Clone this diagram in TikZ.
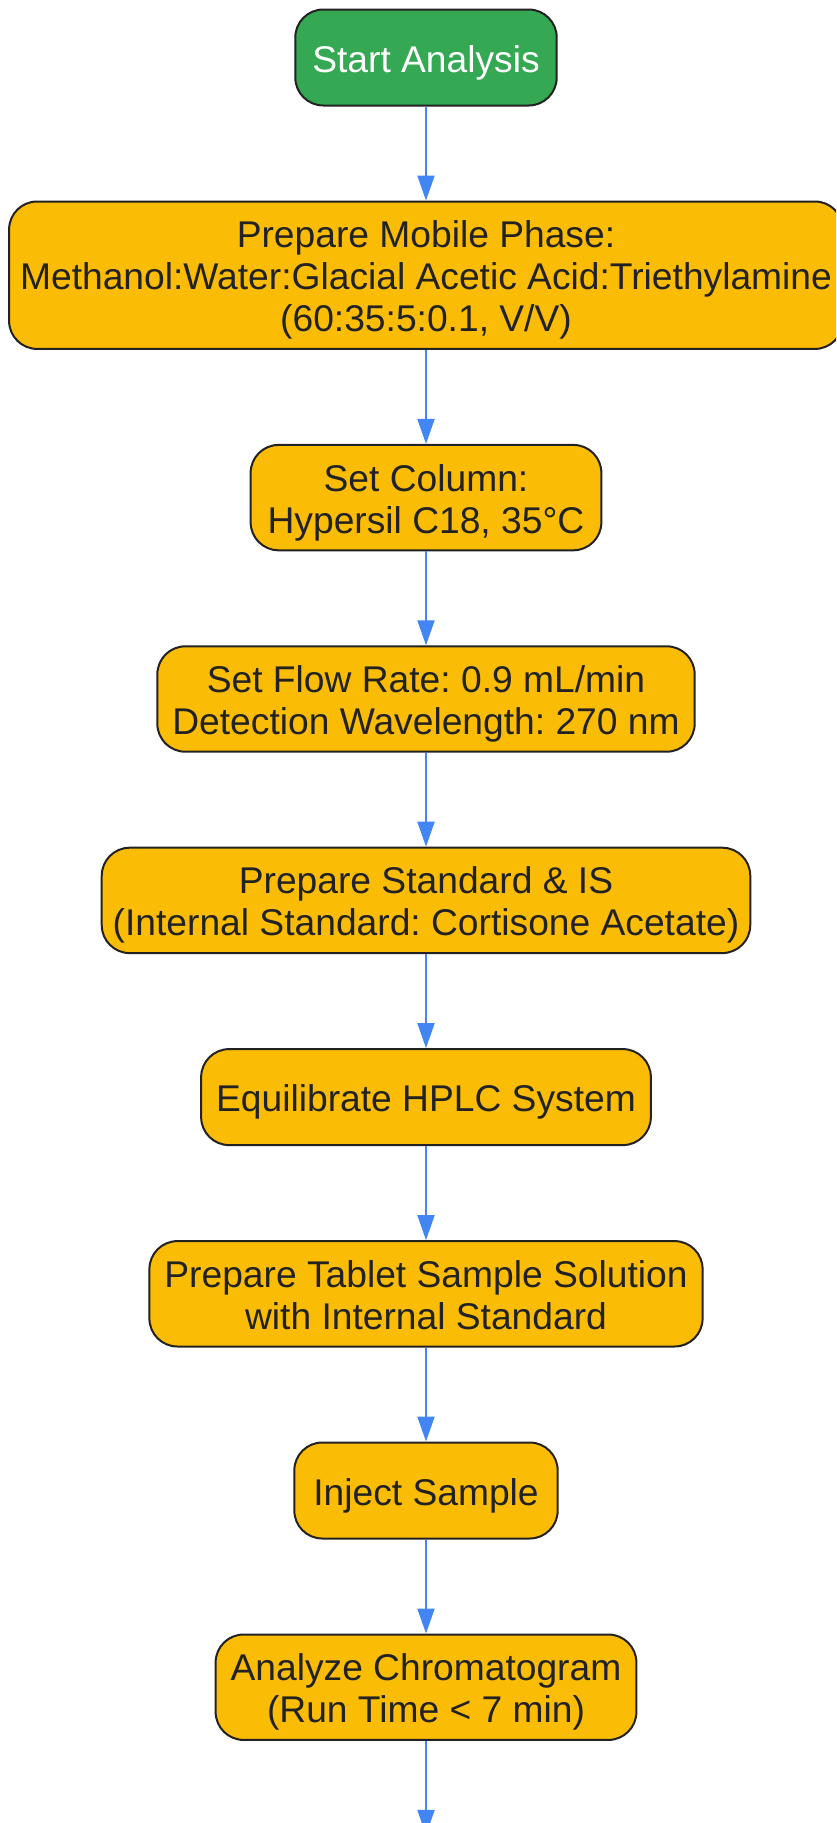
\documentclass[tikz,border=0pt]{standalone}
\usepackage{fontspec}
\setmainfont{Liberation Sans}
\usetikzlibrary{positioning,arrows.meta}
\definecolor{vert}{HTML}{34A853}
\definecolor{jaune}{HTML}{FBBC05}
\definecolor{bleu}{HTML}{4285F4}
\definecolor{bord}{HTML}{222222}
\newcommand\haut{\rule{0pt}{37pt}}% premiere ligne un peu plus haute
\newcommand\bas{\rule[-8pt]{0pt}{8pt}}% derniere ligne
\frenchspacing
\begin{document}
\begin{tikzpicture}[x=1pt,y=1pt,node distance=94pt,
    etape/.style={draw=bord,line width=2pt,rounded corners=28pt,fill=jaune,text=bord,
      align=center,inner xsep=15pt,inner ysep=9.2pt,minimum height=96pt,
      font=\fontsize{37.2}{42}\selectfont},
    debut/.style={etape,fill=vert,text=white},
    fleche/.style={draw=bleu,line width=2pt,-{Triangle[length=25pt,width=17pt]}}]
    \path[use as bounding box,clip] (0,0) rectangle (836,-1823);
    \node[debut,inner xsep=17pt] (start) at (426,-57.5) {\haut Start Analysis\bas};
    \node[etape,below=of start,inner xsep=11pt] (phase) {\haut Prepare Mobile Phase:\\Methanol:Water:Glacial Acetic Acid:Triethylamine\\(60:35:5:0.1, V/V)\bas};
    \node[etape,below=of phase,inner xsep=17pt] (colonne) {\haut Set Column:\\Hypersil C18, 35°C\bas};
    \node[etape,below=of colonne] (debit) {\haut Set Flow Rate: 0.9 mL/min\\Detection Wavelength: 270 nm\bas};
    \node[etape,below=of debit,inner xsep=11pt] (standard) {\haut Prepare Standard \& IS\\(Internal Standard: Cortisone Acetate)\bas};
    \node[etape,below=of standard] (equil) {\haut Equilibrate HPLC System\bas};
    \node[etape,below=of equil] (echantillon) {\haut Prepare Tablet Sample Solution\\with Internal Standard\bas};
    \node[etape,below=of echantillon,inner xsep=19pt] (injection) {\haut Inject Sample\bas};
    \node[etape,below=of injection] (analyse) {\haut Analyze Chromatogram\\(Run Time < 7 min)\bas};
    \coordinate[below=of analyse] (suite);% la suite sort de l'image
    \foreach \a/\b in {start/phase,phase/colonne,colonne/debit,debit/standard,standard/equil,
        equil/echantillon,echantillon/injection,injection/analyse,analyse/suite}
        \draw[fleche] (\a) -- (\b);
\end{tikzpicture}
\end{document}
